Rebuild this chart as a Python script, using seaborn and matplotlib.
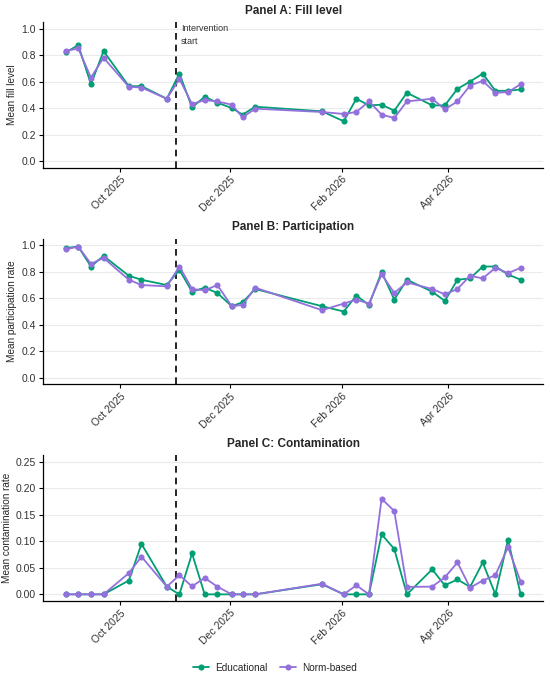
import pandas as pd
import seaborn as sns
import matplotlib.pyplot as plt
import matplotlib.dates as mdates

# weekly survey dates
dates = ["2025-09-01", "2025-09-08", "2025-09-15", "2025-09-22", "2025-10-06",
         "2025-10-13", "2025-10-27", "2025-11-03", "2025-11-10", "2025-11-17",
         "2025-11-24", "2025-12-02", "2025-12-08", "2025-12-15", "2026-01-21",
         "2026-02-02", "2026-02-09", "2026-02-16", "2026-02-23", "2026-03-02",
         "2026-03-09", "2026-03-23", "2026-03-30", "2026-04-06", "2026-04-13",
         "2026-04-20", "2026-04-27", "2026-05-04", "2026-05-11"]
intervention_date = "2025-11-01"

groups = ["Educational", "Norm-based"]

fill_edu = [0.82, 0.875, 0.58, 0.83, 0.565, 0.565, 0.47, 0.66, 0.405, 0.485,
            0.44, 0.40, 0.35, 0.41, 0.375, 0.30, 0.47, 0.42, 0.425, 0.38,
            0.515, 0.42, 0.42, 0.545, 0.60, 0.66, 0.53, 0.53, 0.54]
fill_norm = [0.83, 0.85, 0.63, 0.78, 0.56, 0.555, 0.47, 0.62, 0.43, 0.46,
             0.45, 0.425, 0.33, 0.395, 0.37, 0.355, 0.37, 0.45, 0.35, 0.325,
             0.45, 0.47, 0.39, 0.45, 0.57, 0.605, 0.515, 0.52, 0.58]

part_edu = [0.98, 0.99, 0.84, 0.92, 0.77, 0.74, 0.70, 0.815, 0.65, 0.68,
            0.64, 0.54, 0.57, 0.67, 0.54, 0.50, 0.62, 0.55, 0.80, 0.59,
            0.74, 0.65, 0.58, 0.74, 0.75, 0.84, 0.84, 0.78, 0.74]
part_norm = [0.97, 0.99, 0.86, 0.905, 0.74, 0.70, 0.69, 0.84, 0.67, 0.66,
             0.70, 0.54, 0.55, 0.68, 0.51, 0.56, 0.59, 0.56, 0.78, 0.64,
             0.72, 0.67, 0.63, 0.67, 0.77, 0.75, 0.83, 0.79, 0.83]

cont_edu = [0.0, 0.0, 0.0, 0.0, 0.026, 0.095, 0.0145, 0.0, 0.077, 0.0,
            0.0, 0.0, 0.0, 0.0, 0.019, 0.0, 0.0, 0.0, 0.113, 0.0855,
            0.0, 0.047, 0.017, 0.028, 0.014, 0.060, 0.0, 0.103, 0.0]
cont_norm = [0.0, 0.0, 0.0, 0.0, 0.040, 0.071, 0.0145, 0.036, 0.015, 0.031,
             0.0145, 0.0, 0.0, 0.0, 0.020, 0.0, 0.017, 0.0, 0.180, 0.157,
             0.014, 0.0145, 0.032, 0.060, 0.0125, 0.026, 0.036, 0.089, 0.024]

palette = {"Educational": "#009E73", "Norm-based": "#9370DB"}

panels = [
    ("Panel A: Fill level", "Mean fill level", fill_edu, fill_norm,
     [0, 0.2, 0.4, 0.6, 0.8, 1.0], "{:.1f}", (-0.05, 1.05)),
    ("Panel B: Participation", "Mean participation rate", part_edu, part_norm,
     [0, 0.2, 0.4, 0.6, 0.8, 1.0], "{:.1f}", (-0.05, 1.05)),
    ("Panel C: Contamination", "Mean contamination rate", cont_edu, cont_norm,
     [0, 0.05, 0.10, 0.15, 0.20, 0.25], "{:.2f}", (-0.0125, 0.2625)),
]

sns.set_theme(style="ticks")
plt.rcParams['font.family'] = ['Liberation Sans', 'DejaVu Sans']

fig = plt.figure(figsize=(5.5, 6.78), dpi=100)
boxes = [[0.078, 0.7528, 0.910, 0.2148],
         [0.078, 0.4332, 0.910, 0.2147],
         [0.078, 0.1136, 0.910, 0.2153]]

d = pd.to_datetime(dates)
xmin = d.min() - pd.Timedelta(days=12.6)
xmax = d.max() + pd.Timedelta(days=12.6)
handles = None

for i, (title, ylabel, edu, norm, yticks, fmt, ylim) in enumerate(panels):
    ax = fig.add_axes(boxes[i])
    df = pd.DataFrame({
        "date": list(d) * 2,
        "value": edu + norm,
        "group": ["Educational"] * len(d) + ["Norm-based"] * len(d),
    })
    sns.lineplot(data=df, x="date", y="value", hue="group", hue_order=groups,
                 palette=palette, marker="o", markersize=4.4, markeredgewidth=0,
                 linewidth=1.3, ax=ax, legend=(i == 0))
    if i == 0:
        handles, labels = ax.get_legend_handles_labels()
        ax.get_legend().remove()

    ax.axvline(pd.Timestamp(intervention_date), color="black", lw=1.2,
               ls=(0, (4, 3)), zorder=1)
    if i == 0:
        ax.text(pd.Timestamp(intervention_date) + pd.Timedelta(days=3), 1.035,
                "Intervention\nstart", fontsize=6.5, color="#333333",
                ha="left", va="top", linespacing=1.6)

    ax.set_xlim(xmin, xmax)
    ax.set_ylim(*ylim)
    ax.set_yticks(yticks)
    ax.set_yticklabels([fmt.format(v) for v in yticks])
    ax.xaxis.set_major_locator(mdates.MonthLocator(bymonth=[2, 4, 10, 12]))
    ax.xaxis.set_major_formatter(mdates.DateFormatter("%b %Y"))
    plt.setp(ax.get_xticklabels(), rotation=45, ha="right",
             rotation_mode="anchor")
    ax.yaxis.grid(True, color="#EBEBEB", lw=0.8)
    ax.set_axisbelow(True)
    sns.despine(ax=ax)
    for s in ["left", "bottom"]:
        ax.spines[s].set_color("black")
        ax.spines[s].set_linewidth(0.9)
    ax.tick_params(axis="both", labelsize=7.5, length=3, width=0.8,
                   color="black", labelcolor="#333333", pad=2)
    ax.set_title(title, fontsize=8.5, fontweight="bold", pad=6)
    ax.set_xlabel("")
    ax.set_ylabel(ylabel, fontsize=7.2, labelpad=3)

fig.legend(handles, labels, loc="center", bbox_to_anchor=(0.5, 0.015),
           ncol=2, frameon=False, fontsize=7.2, handlelength=1.6,
           columnspacing=1.2, handletextpad=0.6)

fig.savefig("out.png", dpi=100)
